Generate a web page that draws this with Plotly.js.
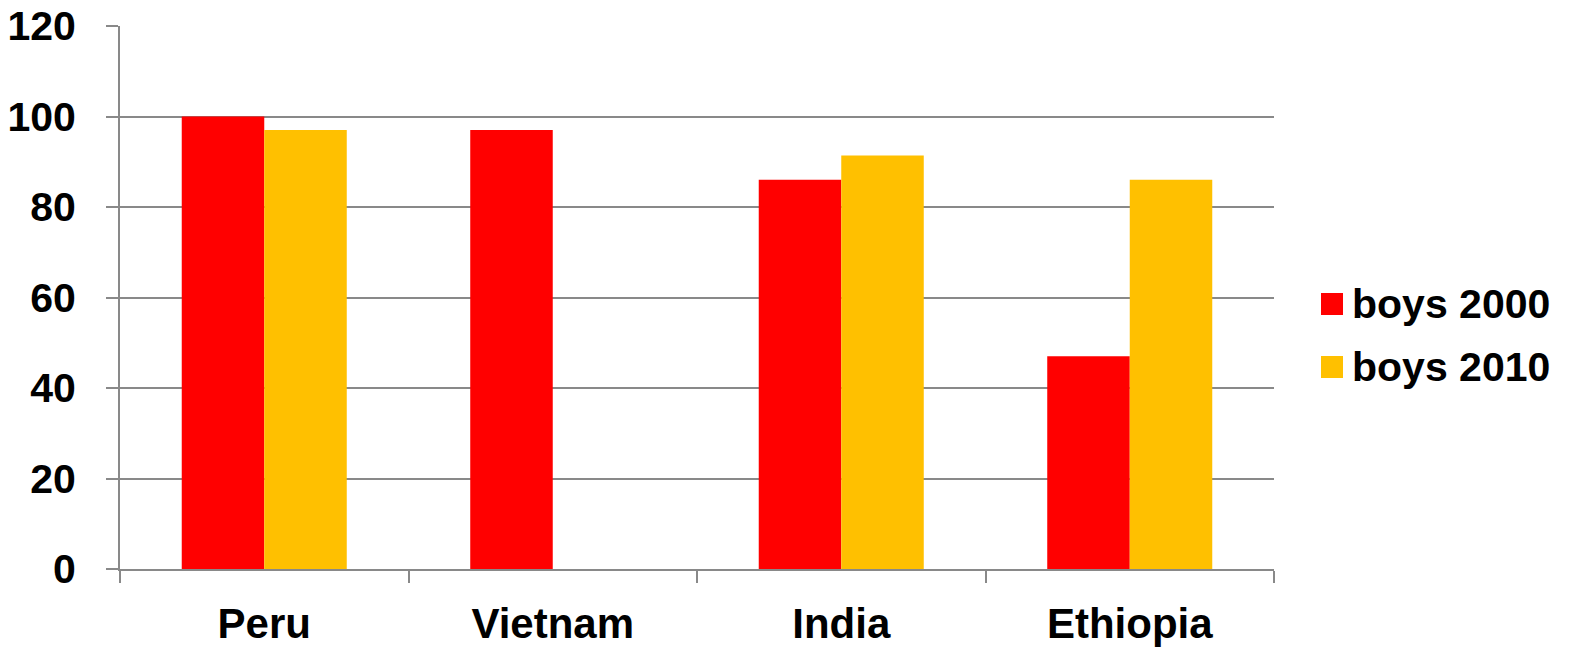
<!DOCTYPE html>
<html>
<head>
<meta charset="utf-8">
<script src="https://cdn.plot.ly/plotly-3.0.1.min.js"></script>
<style>
  html, body { margin: 0; padding: 0; background: #ffffff; }
  #chart { width: 1569px; height: 654px; }
</style>
</head>
<body>
<div id="chart"></div>
<script>
// Countries and enrolment values for boys
const countries = ['Peru', 'Vietnam', 'India', 'Ethiopia'];
const boys2000 = [100, 97, 86, 47];
const boys2010 = [97, null, 91.4, 86];
const seriesNames = ['boys 2000', 'boys 2010'];
const seriesColors = ['#FF0000', '#FFC000'];
const yTicks = [0, 20, 40, 60, 80, 100, 120];

const FONT = 'Liberation Sans, Arial, Helvetica, sans-serif';
const GRID = '#898989';

const traces = [boys2000, boys2010].map((vals, i) => ({
  type: 'bar',
  name: seriesNames[i],
  x: countries,
  y: vals,
  marker: { color: seriesColors[i], line: { width: 0 } },
  showlegend: false,
  hoverinfo: 'x+y+name'
}));

// Custom legend: large square swatches with bold labels to the right of the plot
const legendY = [0.488, 0.372];
const swatch = 22;
const plotW = 1569 - 120 - 295;
const plotH = 654 - 26 - 85;
const shapes = seriesNames.map((n, i) => ({
  type: 'rect',
  xref: 'paper', yref: 'paper',
  x0: (1321 - 120) / plotW,
  x1: (1321 + swatch - 120) / plotW,
  y0: legendY[i] - (swatch / 2) / plotH,
  y1: legendY[i] + (swatch / 2) / plotH,
  fillcolor: seriesColors[i],
  line: { width: 0 }
}));
const annotations = seriesNames.map((n, i) => ({
  text: '<b>' + n + '</b>',
  xref: 'paper', yref: 'paper',
  x: (1350 - 120) / plotW,
  y: legendY[i],
  xanchor: 'left', yanchor: 'middle',
  showarrow: false,
  font: { family: FONT, size: 41, color: '#000000' }
}));

const layout = {
  width: 1569,
  height: 654,
  margin: { l: 120, r: 295, t: 26, b: 85 },
  paper_bgcolor: '#ffffff',
  plot_bgcolor: '#ffffff',
  barmode: 'group',
  bargap: 0.428,
  bargroupgap: 0,
  showlegend: false,
  xaxis: {
    type: 'category',
    tickson: 'boundaries',
    ticks: 'outside',
    ticklen: 12,
    tickwidth: 2,
    tickcolor: GRID,
    showline: true,
    linecolor: GRID,
    linewidth: 2,
    showgrid: false,
    zeroline: false,
    ticklabelstandoff: 17,
    tickfont: { family: FONT, size: 42, color: '#000000', weight: 'bold' }
  },
  yaxis: {
    range: [0, 120],
    tickvals: yTicks,
    ticktext: yTicks.map(String),
    ticks: 'outside',
    ticklen: 12,
    tickwidth: 2,
    tickcolor: GRID,
    showline: true,
    linecolor: GRID,
    linewidth: 2,
    showgrid: true,
    gridcolor: GRID,
    gridwidth: 2,
    zeroline: false,
    ticklabelstandoff: 22,
    tickfont: { family: FONT, size: 41, color: '#000000', weight: 'bold' }
  },
  shapes: shapes,
  annotations: annotations
};

Plotly.newPlot('chart', traces, layout, { displayModeBar: false, staticPlot: true });
</script>
</body>
</html>
